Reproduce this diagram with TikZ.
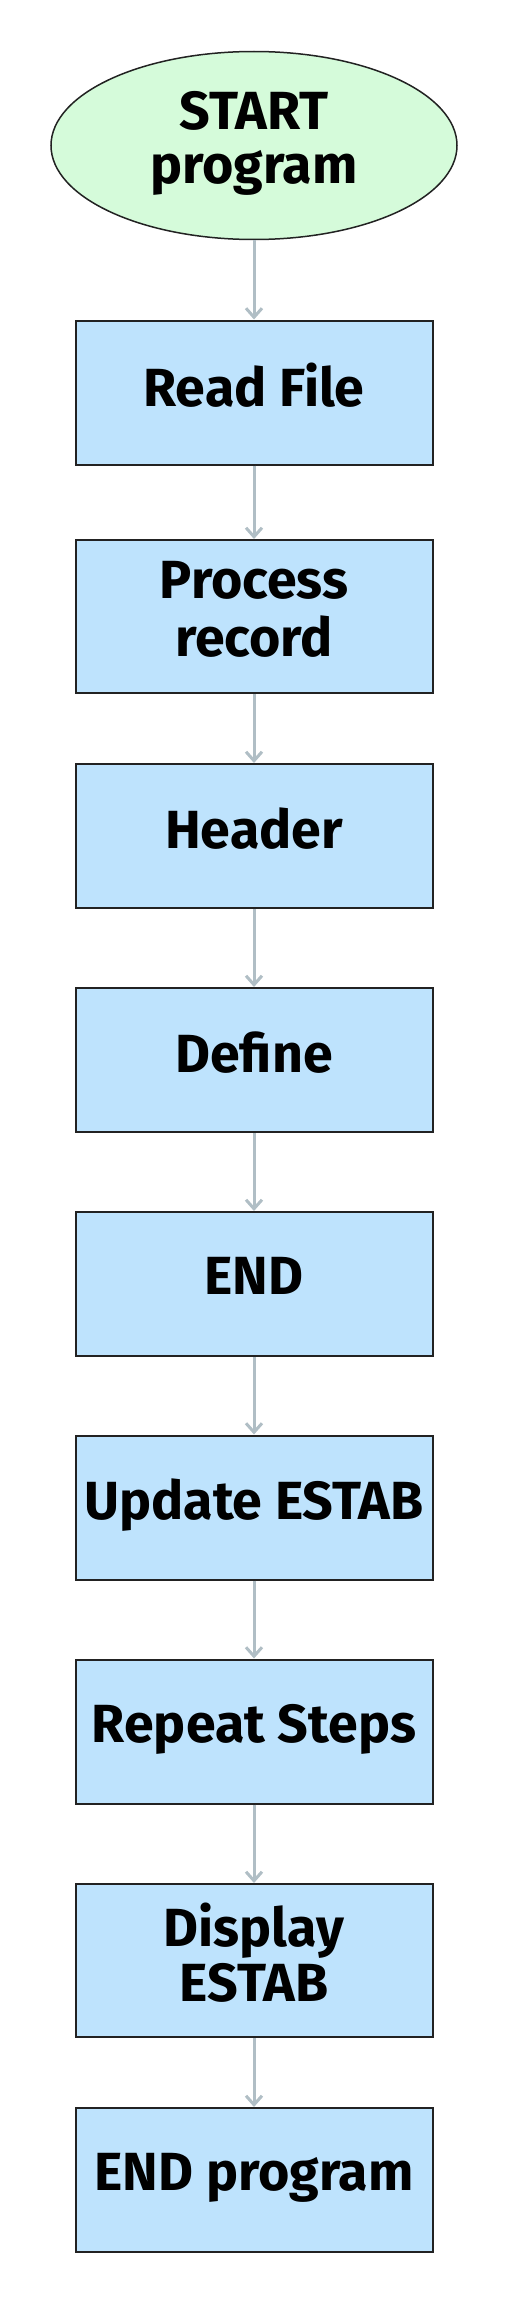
\documentclass[tikz,border=0pt]{standalone}
\usepackage{fontspec}
\setmainfont{Fira Sans}
\usetikzlibrary{arrows.meta,shapes.geometric}
\definecolor{boxfill}{HTML}{BEE3FD}
\definecolor{startfill}{HTML}{D5FBDA}
\definecolor{boxline}{HTML}{222222}
\definecolor{arrowc}{HTML}{B0BEC5}
\newcommand\flowfont{\fontsize{53.7pt}{54pt}\selectfont\bfseries}
\begin{document}
\begin{tikzpicture}[x=1pt,y=-1pt,
 stepbox/.style={draw=boxline,line width=2pt,fill=boxfill,minimum width=357pt,minimum height=144pt,inner sep=0pt,align=center,font=\flowfont},
 tallbox/.style={minimum height=153pt},
 startnode/.style={ellipse,draw=boxline,line width=1.5pt,fill=startfill,minimum width=406pt,minimum height=188pt,inner sep=0pt,align=center,font=\flowfont},
 flow/.style={draw=arrowc,line width=3pt,-{Straight Barb[length=9pt,width=16pt]}}]
\useasboundingbox (0,0) rectangle (509,2304);
\node[startnode] (start) at (254,145.5) {START\strut\\program\strut};
\node[stepbox] (read) at (254,392.5) {Read File\strut};
\node[stepbox,tallbox] (proc) at (254,616.5) {Process\strut\\record\strut};
\node[stepbox] (head) at (254,836) {Header\strut};
\node[stepbox] (def) at (254,1060) {Define\strut};
\node[stepbox] (endr) at (254,1284) {END\strut};
\node[stepbox] (upd) at (254,1507.5) {Update ESTAB\strut};
\node[stepbox] (rep) at (254,1731.5) {Repeat Steps\strut};
\node[stepbox,tallbox] (disp) at (254,1960.5) {Display\strut\\ESTAB\strut};
\node[stepbox] (endp) at (254,2180) {END program\strut};
\draw[flow] (start) -- (read);
\draw[flow] (read) -- (proc);
\draw[flow] (proc) -- (head);
\draw[flow] (head) -- (def);
\draw[flow] (def) -- (endr);
\draw[flow] (endr) -- (upd);
\draw[flow] (upd) -- (rep);
\draw[flow] (rep) -- (disp);
\draw[flow] (disp) -- (endp);
\end{tikzpicture}
\end{document}
